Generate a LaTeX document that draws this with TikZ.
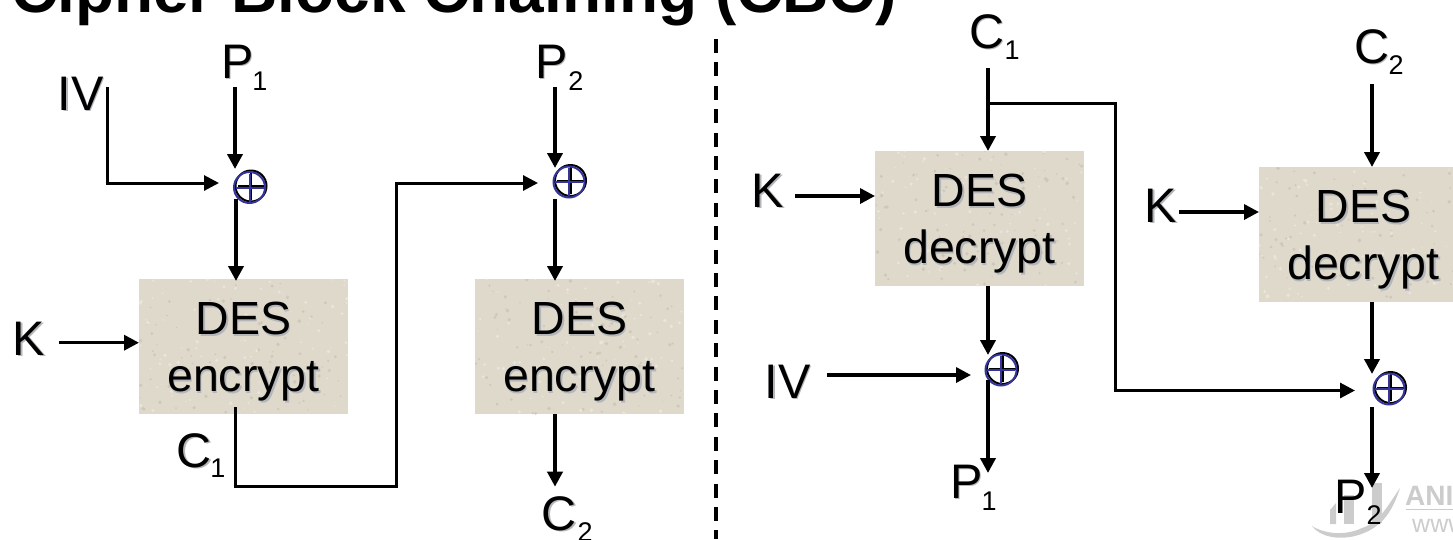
\documentclass[tikz,border=0pt]{standalone}
\usepackage{fontspec}
\setmainfont{Liberation Sans}
\usetikzlibrary{arrows.meta}
\definecolor{shadowgrey}{HTML}{B4B6BA}
\definecolor{boxfill}{HTML}{DFD9CC}
\definecolor{speckdark}{HTML}{CFC8B8}
\definecolor{specklight}{HTML}{E9E5DB}
\definecolor{xorblue}{HTML}{34349A}
\definecolor{markgrey}{HTML}{CCCCCC}
\newcommand{\shad}[1]{\leavevmode\rlap{\kern1.6pt\raisebox{-1.6pt}{\textcolor{shadowgrey}{#1}}}#1}
\newcommand{\boxlines}[2]{\rule{0pt}{44.3pt}\shad{#1}\\\shad{#2}}
\pgfmathsetseed{42}
\tikzset{
  x=1pt,y=-1pt,
  conn/.style={line width=3.8pt,black},
  thin conn/.style={line width=3pt,black,line join=miter},
  tip/.style={-{Triangle[length=15pt,width=15pt]}},
  arr/.style={conn,tip},
  harr/.style={line width=3.4pt,black,tip},
  thinarr/.style={thin conn,tip},
  desbox/.style={fill=boxfill,draw=none,minimum width=209pt,minimum height=135pt,align=center,
    font=\fontsize{46.5}{57}\selectfont,inner sep=0pt,
    path picture={
      \foreach \i in {1,...,170}{
        \pgfmathsetmacro{\px}{rnd*209-104.5}
        \pgfmathsetmacro{\py}{rnd*135-67.5}
        \pgfmathsetmacro{\pr}{0.6+rnd*1.4}
        \pgfmathparse{rnd>0.5?1:0}
        \ifnum\pgfmathresult=1\relax
          \fill[speckdark] ([shift={(\px pt,\py pt)}]path picture bounding box.center) circle (\pr pt);
        \else
          \fill[specklight] ([shift={(\px pt,\py pt)}]path picture bounding box.center) circle (\pr pt);
        \fi
      }
    }},
  lab/.style={font=\fontsize{48.5}{56}\selectfont,inner sep=0pt,anchor=base},
  subs/.style={font=\fontsize{27}{30}\selectfont,inner sep=0pt,anchor=base},
  xorn/.style={circle,minimum size=40pt,inner sep=0pt,path picture={
     \coordinate (cc) at (path picture bounding box.center);
     \draw[black,line width=2pt] ([shift={(1.5pt,1.5pt)}]cc) circle (15.5pt);
     \draw[black,line width=2pt] ([shift={(1.5pt,-12pt)}]cc) -- ([shift={(1.5pt,15pt)}]cc);
     \draw[black,line width=2pt] ([shift={(-12pt,1.5pt)}]cc) -- ([shift={(15pt,1.5pt)}]cc);
     \draw[xorblue,line width=2pt] (cc) circle (15.5pt);
     \draw[xorblue,line width=2pt] ([xshift=-14pt]cc) -- ([xshift=14pt]cc);
     \draw[xorblue,line width=2pt] ([yshift=-14pt]cc) -- ([yshift=14pt]cc);
  }},
}
\begin{document}
\begin{tikzpicture}
\useasboundingbox (0,0) rectangle (1453,539);
\clip (0,0) rectangle (1453,539);
\node[font=\bfseries\fontsize{64}{70}\selectfont,inner sep=0pt,anchor=base west] (title) at (11,12) {Cipher Block Chaining (CBC)};
% watermark
\fill[markgrey] (1372,483) -- (1382,483) -- (1382,523) -- (1372,523) -- cycle;
\fill[markgrey] (1330,510) -- (1336,503) -- (1336,524) -- (1330,524) -- cycle;
\fill[markgrey] (1344,495) -- (1354,495) -- (1354,524) -- (1344,524) -- cycle;
\fill[markgrey] (1312,526) .. controls (1325,534) and (1345,536) .. (1362,528) .. controls (1380,522) and (1388,505) .. (1400,488) .. controls (1394,506) and (1386,524) .. (1364,533) .. controls (1345,541) and (1322,539) .. (1312,526) -- cycle;
\node[font=\bfseries\fontsize{28}{30}\selectfont,text=markgrey,inner sep=0pt,anchor=base west] (mark) at (1405,505) {ANI};
\coordinate (mla) at (1406,509); \coordinate (mlb) at (1453,509);
\draw[markgrey,line width=1pt] (mla) -- (mlb);
\node[font=\fontsize{25}{27}\selectfont,text=markgrey,inner sep=0pt,anchor=base west] (markw) at (1412,532) {www};
% divider
\coordinate (da) at (716,39); \coordinate (db) at (716,539);
\draw[line width=3.8pt,dash pattern=on 14pt off 9.4pt] (da) -- (db);
% boxes
\node[desbox] (e1) at (243.5,346.5) {\boxlines{DES}{encrypt}};
\node[desbox] (e2) at (579.5,346.5) {\boxlines{DES}{encrypt}};
\node[desbox] (d1) at (979.5,218.5) {\boxlines{DES}{decrypt}};
\node[desbox] (d2) at (1363.5,234.5) {\boxlines{DES}{decrypt}};
% xor
\node[xorn] (x1) at (249.5,187.5) {};
\node[xorn] (x2) at (569,182) {};
\node[xorn] (x3) at (1001,370) {};
\node[xorn] (x4) at (1389,389) {};
% left labels
\node[lab] (p1) at (237.5,78) {\shad{P}};
\node[subs] (p1s) at (260,90.5) {1};
\node[lab] (p2) at (551.5,78) {\shad{P}};
\node[subs] (p2s) at (576,90.5) {2};
\node[lab] (iv) at (80.5,110) {\shad{IV}};
\node[lab] (k1) at (29,355) {\shad{K}};
\node[lab] (c1) at (194,467) {\shad{C}};
\node[subs] (c1s) at (218,477) {1};
\node[lab] (c2) at (559.5,530) {\shad{C}};
\node[subs] (c2s) at (585,541) {2};
% left connectors
\coordinate (p1b) at (235,87); \coordinate (x1t) at (235,169);
\draw[arr] (p1b) -- (x1t);
\coordinate (ivs) at (107,87); \coordinate (ivc) at (107,183); \coordinate (x1l) at (219,183);
\draw[thinarr] (ivs) -- (ivc) -- (x1l);
\coordinate (x1b) at (236,199); \coordinate (e1t) at (236,281);
\draw[arr] (x1b) -- (e1t);
\coordinate (k1e) at (59,342.7); \coordinate (e1l) at (139,342.7);
\draw[harr] (k1e) -- (e1l);
\coordinate (e1b) at (235.7,407); \coordinate (m1) at (235.7,486.7); \coordinate (m2) at (396.5,486.7); \coordinate (m3) at (396.5,183); \coordinate (x2l) at (538,183);
\draw[thinarr] (e1b) -- (m1) -- (m2) -- (m3) -- (x2l);
\coordinate (p2b) at (555,87); \coordinate (x2t) at (555,168);
\draw[arr] (p2b) -- (x2t);
\coordinate (x2b) at (555,199); \coordinate (e2t) at (555,281);
\draw[arr] (x2b) -- (e2t);
\coordinate (e2b) at (555,414); \coordinate (c2t) at (555,486.7);
\draw[arr] (e2b) -- (c2t);
% right labels
\node[lab] (c1r) at (986.5,48) {\shad{C}};
\node[subs] (c1rs) at (1012,59) {1};
\node[lab] (c2r) at (1371.5,63) {\shad{C}};
\node[subs] (c2rs) at (1396,74) {2};
\node[lab] (k2) at (768,207) {\shad{K}};
\node[lab] (k3) at (1161,222) {\shad{K}};
\node[lab] (iv2) at (787.5,398) {\shad{IV}};
\node[lab] (p1r) at (966.5,498) {\shad{P}};
\node[subs] (p1rs) at (989,510) {1};
\node[lab] (p2r) at (1350.5,513) {P};
\node[subs] (p2rs) at (1374,524) {2};
% right connectors
\coordinate (c1b) at (988,68); \coordinate (d1t) at (988,151);
\draw[arr] (c1b) -- (d1t);
\coordinate (t1) at (988,103); \coordinate (t2) at (1115.7,103); \coordinate (t3) at (1115.7,390.5); \coordinate (x4l) at (1355,390.5);
\draw[thinarr] (t1) -- (t2) -- (t3) -- (x4l);
\coordinate (k2e) at (795,196); \coordinate (d1l) at (875,196);
\draw[harr] (k2e) -- (d1l);
\coordinate (d1b) at (988,286); \coordinate (x3t) at (988,355);
\draw[arr] (d1b) -- (x3t);
\coordinate (x3b) at (988,380); \coordinate (p1t) at (988,473);
\draw[arr] (x3b) -- (p1t);
\coordinate (ive) at (827,375); \coordinate (x3l) at (971,375);
\draw[harr] (ive) -- (x3l);
\coordinate (c2b) at (1372,84); \coordinate (d2t) at (1372,167);
\draw[arr] (c2b) -- (d2t);
\coordinate (k3e) at (1179,212); \coordinate (d2l) at (1259,212);
\draw[harr] (k3e) -- (d2l);
\coordinate (d2b) at (1372,302); \coordinate (x4t) at (1372,374);
\draw[arr] (d2b) -- (x4t);
\coordinate (x4b) at (1372,407); \coordinate (p2t) at (1372,488);
\draw[arr] (x4b) -- (p2t);
\end{tikzpicture}
\end{document}
